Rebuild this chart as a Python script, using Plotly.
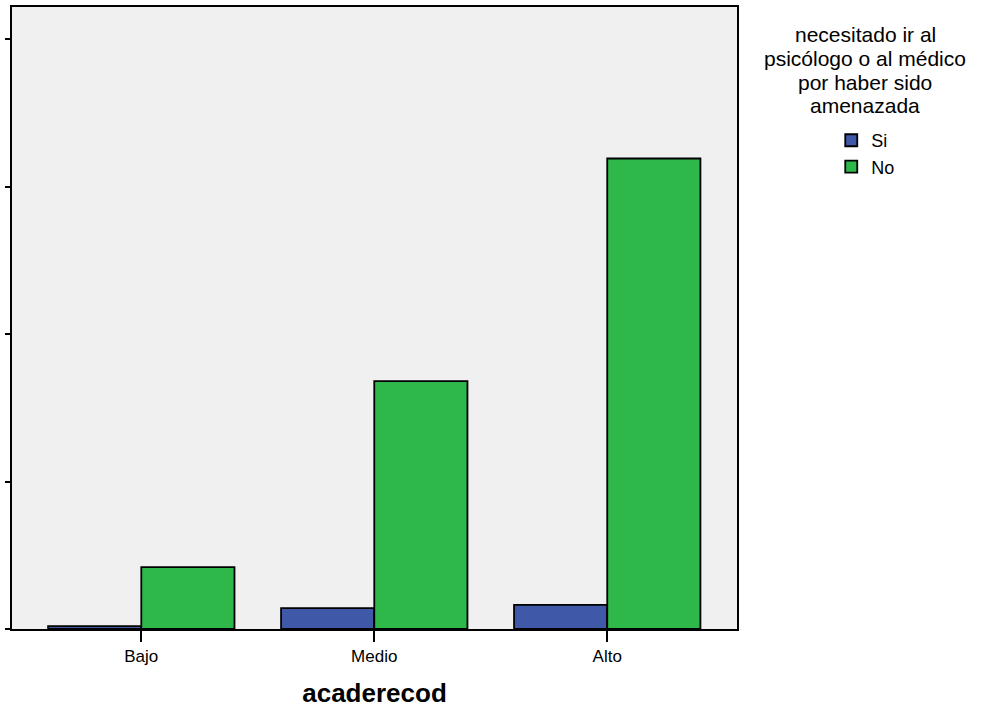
import plotly.graph_objects as go

categories = ["Bajo", "Medio", "Alto"]
si_values = [0.2, 1.42, 1.63]
no_values = [4.2, 16.8, 31.9]
series_names = ["Si", "No"]
legend_title_lines = ["necesitado ir al", "psicólogo o al médico", "por haber sido", "amenazada"]
x_title = "acaderecod"

fig = go.Figure()
fig.add_trace(go.Bar(x=categories, y=si_values, name=series_names[0],
                     marker=dict(color="#3F58A8", line=dict(color="black", width=1.8))))
fig.add_trace(go.Bar(x=categories, y=no_values, name=series_names[1],
                     marker=dict(color="#2FB84A", line=dict(color="black", width=1.8))))

title_y = [0.955, 0.918, 0.879, 0.842]
annotations = [dict(text=t, xref="paper", yref="paper", x=1.1766, y=yy,
                    xanchor="center", yanchor="middle", showarrow=False,
                    font=dict(size=21))
               for t, yy in zip(legend_title_lines, title_y)]

fig.update_layout(
    width=984, height=708,
    margin=dict(l=12, r=247, t=7, b=79),
    paper_bgcolor="white",
    plot_bgcolor="#F0F0F0",
    barmode="group", bargap=0.2, bargroupgap=0,
    font=dict(family="Liberation Sans, Arial, sans-serif", color="black"),
    showlegend=True,
    legend=dict(x=1.13, y=0.815, xanchor="left", yanchor="top",
                font=dict(size=18), tracegroupgap=0, itemwidth=30,
                bgcolor="rgba(0,0,0,0)"),
    annotations=annotations,
)
fig.update_xaxes(
    range=[-0.555, 2.557], showline=True, linecolor="black", linewidth=2, mirror=True,
    ticks="outside", ticklen=11, tickwidth=2, tickcolor="black",
    tickfont=dict(size=17), automargin=False,
    title=dict(text="<b>" + x_title + "</b>", font=dict(size=26), standoff=29),
    showgrid=False,
)
fig.update_yaxes(
    range=[0, 42.17], dtick=10, showline=True, linecolor="black", linewidth=2, mirror=True,
    ticks="outside", ticklen=5, tickwidth=2, tickcolor="black", automargin=False,
    showticklabels=False, showgrid=False, zeroline=False,
)
fig.write_html("out.html", config={"displayModeBar": False},
               post_script="document.body.style.margin='0';document.body.style.overflow='hidden';")
